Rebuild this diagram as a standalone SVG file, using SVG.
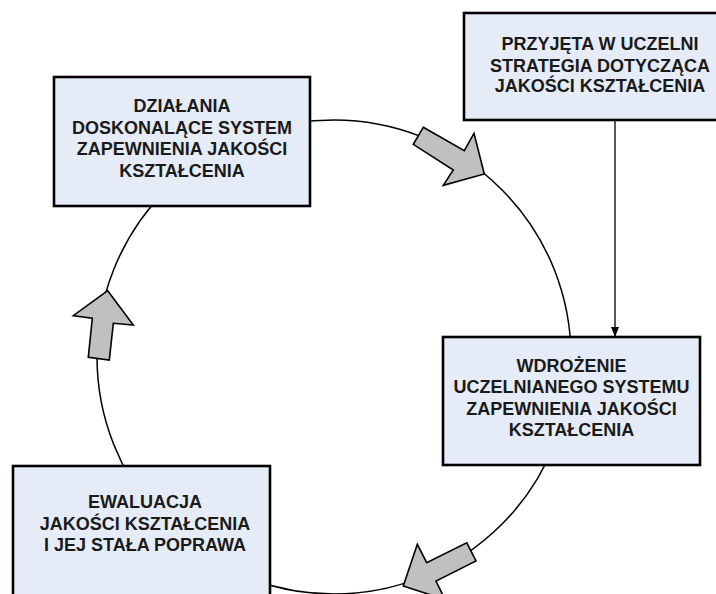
<svg xmlns="http://www.w3.org/2000/svg" width="716" height="594" viewBox="0 0 716 594">
<defs>
<style>
.box{fill:#E6ECF7;stroke:#000;stroke-width:2.6}
.t{font-family:"Liberation Sans",Arial,sans-serif;font-weight:bold;font-size:18px;fill:#1a1a1a;text-anchor:middle}
.ring{fill:none;stroke:#000;stroke-width:1.5}
.blk{fill:#C0C0C0;stroke:#000;stroke-width:1.6;stroke-linejoin:miter}
.ln{stroke:#000;stroke-width:1.3;fill:none}
</style>
<marker id="ah" markerWidth="10" markerHeight="10" refX="9" refY="4" orient="auto" markerUnits="userSpaceOnUse">
<path d="M0,0 L10,4 L0,8 Z" fill="#000"/>
</marker>
</defs>
<rect width="716" height="594" fill="#fff"/>
<g id="connectors">
<circle class="ring" cx="334" cy="357" r="237"/>
<line class="ln" x1="615" y1="120" x2="615" y2="336" marker-end="url(#ah)"/>
</g>
<g id="node-dzialania">
<rect class="box" x="54" y="77" width="256" height="129"/>
<text class="t" x="182" y="112">DZIAŁANIA</text>
<text class="t" x="182" y="133.5">DOSKONALĄCE SYSTEM</text>
<text class="t" x="182" y="155">ZAPEWNIENIA JAKOŚCI</text>
<text class="t" x="182" y="176.5">KSZTAŁCENIA</text>
</g>
<g id="node-strategia">
<rect class="box" x="464" y="13" width="276" height="107"/>
<text class="t" x="600" y="50">PRZYJĘTA W UCZELNI</text>
<text class="t" x="600" y="71.5">STRATEGIA DOTYCZĄCA</text>
<text class="t" x="600" y="92">JAKOŚCI KSZTAŁCENIA</text>
</g>
<g id="node-wdrozenie">
<rect class="box" x="443" y="337" width="257" height="128"/>
<text class="t" x="571.5" y="371.5">WDROŻENIE</text>
<text class="t" x="571.5" y="393">UCZELNIANEGO SYSTEMU</text>
<text class="t" x="571.5" y="414.5">ZAPEWNIENIA JAKOŚCI</text>
<text class="t" x="571.5" y="436">KSZTAŁCENIA</text>
</g>
<g id="node-ewaluacja">
<rect class="box" x="13" y="466" width="257" height="140"/>
<text class="t" x="145" y="508">EWALUACJA</text>
<text class="t" x="145" y="529.5">JAKOŚCI KSZTAŁCENIA</text>
<text class="t" x="145" y="551">I JEJ STAŁA POPRAWA</text>
</g>
<g id="cycle-arrows">
<polygon class="blk" points="423.3,127.3 464.3,150.7 474,133.3 484.3,174 443.3,185.3 453.3,170 413.3,144.3"/>
<polygon class="blk" points="107.7,290.7 133.3,325 113.3,323.3 109.3,360 88.3,357.3 92.3,318.3 73.3,315.7"/>
<polygon class="blk" points="466.7,542.7 476,561 436,581.1 445.1,599.6 403.3,586 417.3,544.3 426.7,562.7"/>
</g>
</svg>
